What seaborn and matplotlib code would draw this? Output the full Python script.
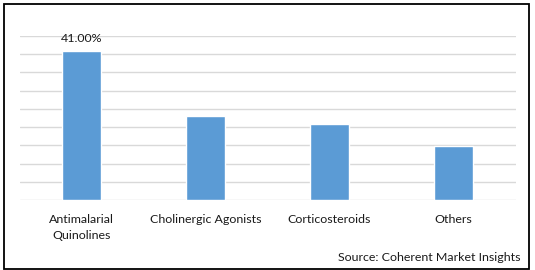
import matplotlib
matplotlib.use("Agg")
import matplotlib.pyplot as plt
import seaborn as sns
import pandas as pd
from matplotlib.patches import Rectangle

categories = ["Antimalarial\nQuinolines", "Cholinergic Agonists", "Corticosteroids", "Others"]
values = [41.0, 23.0, 20.9, 14.8]
labels = ["41.00%", "", "", ""]

sns.set_theme(style="white")
plt.rcParams['font.family'] = ['Lato', 'DejaVu Sans']

W, H = 535, 270
fig = plt.figure(figsize=(W / 100, H / 100), dpi=100)
ax = fig.add_axes([19.5 / W, (H - 200) / H, 496 / W, 164 / H])

df = pd.DataFrame({"cat": categories, "val": values})
sns.barplot(data=df, x="cat", y="val", color="#5b9bd5", saturation=1,
            width=0.315, ax=ax, zorder=3)

ax.set_ylim(0, 45)
ax.set_yticks(range(0, 46, 5))
ax.yaxis.grid(True, color="#d9d9d9", linewidth=1.0, zorder=0)
ax.set_axisbelow(True)
ax.tick_params(axis="y", left=False, labelleft=False)
ax.tick_params(axis="x", bottom=False, colors="#1a1a1a", pad=4)
ax.set_xticks(range(len(categories)))
ax.set_xticklabels(categories, fontsize=8.9, linespacing=1.6, color="#1a1a1a")
for s in ax.spines.values():
    s.set_visible(False)
ax.set_xlabel("")
ax.set_ylabel("")
ax.set_xlim(-0.5, 3.5)

for i, (v, lab) in enumerate(zip(values, labels)):
    if lab:
        ax.annotate(lab, (i, v), xytext=(0, 4.5), textcoords="offset points",
                    ha="center", va="bottom", fontsize=8.9, color="#1a1a1a")

fig.text(521 / W, 1 - 261 / H, "Source: Coherent Market Insights", ha="right",
         va="baseline", fontsize=8.9, color="#1a1a1a")

fig.patches.append(Rectangle((4 / W, 1.5 / H), 524.5 / W, 264.5 / H,
                             transform=fig.transFigure, fill=False,
                             edgecolor="black", linewidth=1.3))

fig.savefig("out.png", dpi=100)
